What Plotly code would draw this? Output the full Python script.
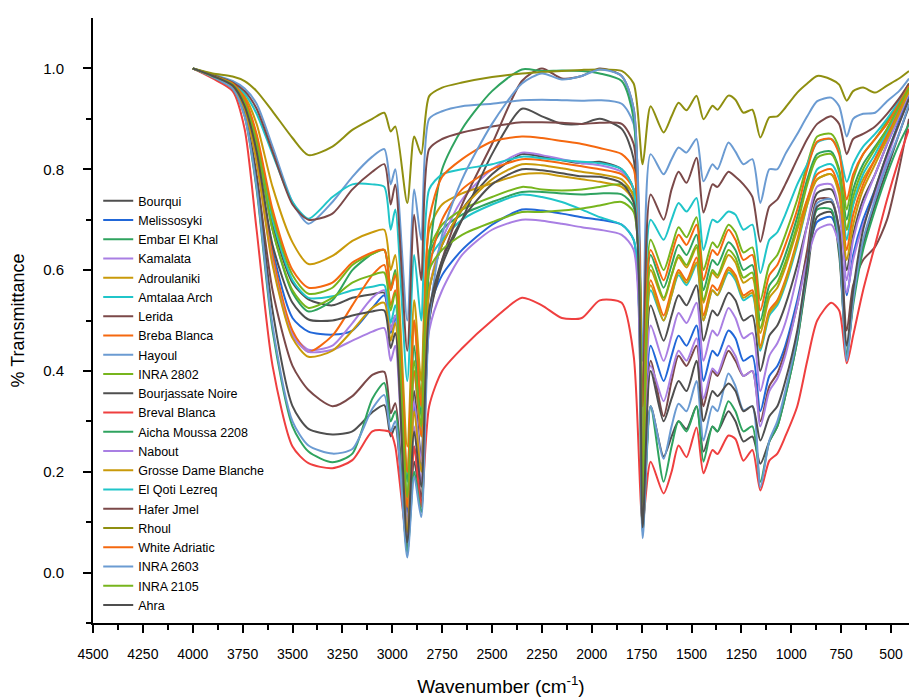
import plotly.graph_objects as go

wavenumber = [4000, 3900, 3800, 3740, 3680, 3600, 3500, 3420, 3300, 3200,
              3100, 3040, 3008, 2985, 2925, 2890, 2855, 2815, 2750, 2650,
              2500, 2350, 2250, 2150, 2050, 1960, 1850, 1790, 1745, 1705,
              1640, 1600, 1565, 1525, 1475, 1440, 1395, 1370, 1315, 1280,
              1240, 1195, 1155, 1110, 1070, 1030, 970, 920, 870, 800,
              760, 722, 690, 640, 580, 520, 460, 410]

bourqui = [1.000, 0.986, 0.968, 0.930, 0.850, 0.690, 0.575, 0.542, 0.530, 0.545,
           0.552, 0.555, 0.480, 0.510, 0.120, 0.360, 0.230, 0.560, 0.650, 0.720,
           0.790, 0.830, 0.825, 0.818, 0.812, 0.815, 0.800, 0.760, 0.120, 0.530,
           0.460, 0.510, 0.550, 0.530, 0.570, 0.460, 0.520, 0.510, 0.555, 0.540,
           0.500, 0.510, 0.400, 0.470, 0.490, 0.530, 0.610, 0.690, 0.753, 0.760,
           0.720, 0.600, 0.670, 0.740, 0.790, 0.850, 0.905, 0.950]
melissosyki = [1.000, 0.985, 0.966, 0.925, 0.830, 0.640, 0.505, 0.478, 0.472, 0.480,
               0.525, 0.550, 0.475, 0.505, 0.100, 0.330, 0.210, 0.520, 0.590, 0.640,
               0.690, 0.720, 0.718, 0.712, 0.705, 0.700, 0.690, 0.660, 0.110, 0.450,
               0.380, 0.430, 0.470, 0.450, 0.490, 0.380, 0.440, 0.430, 0.480, 0.465,
               0.420, 0.430, 0.320, 0.390, 0.410, 0.450, 0.540, 0.630, 0.696, 0.705,
               0.660, 0.550, 0.630, 0.700, 0.760, 0.830, 0.895, 0.945]
embar_el_khal = [1.000, 0.986, 0.970, 0.935, 0.855, 0.680, 0.555, 0.518, 0.540, 0.600,
                 0.632, 0.640, 0.565, 0.600, 0.180, 0.450, 0.310, 0.630, 0.680, 0.710,
                 0.735, 0.755, 0.755, 0.752, 0.750, 0.752, 0.750, 0.725, 0.150, 0.630,
                 0.565, 0.610, 0.650, 0.630, 0.670, 0.560, 0.620, 0.610, 0.655, 0.640,
                 0.600, 0.610, 0.500, 0.570, 0.590, 0.630, 0.705, 0.780, 0.830, 0.835,
                 0.800, 0.700, 0.760, 0.810, 0.845, 0.880, 0.925, 0.960]
kamalata = [1.000, 0.984, 0.965, 0.922, 0.820, 0.620, 0.475, 0.442, 0.450, 0.495,
            0.545, 0.560, 0.480, 0.510, 0.090, 0.340, 0.220, 0.560, 0.660, 0.740,
            0.800, 0.833, 0.828, 0.820, 0.812, 0.808, 0.795, 0.760, 0.110, 0.490,
            0.420, 0.470, 0.515, 0.495, 0.535, 0.420, 0.480, 0.470, 0.525, 0.505,
            0.465, 0.475, 0.360, 0.430, 0.455, 0.495, 0.590, 0.690, 0.766, 0.770,
            0.720, 0.580, 0.660, 0.730, 0.790, 0.850, 0.905, 0.950]
adroulaniki = [1.000, 0.987, 0.972, 0.945, 0.890, 0.765, 0.655, 0.612, 0.628, 0.658,
               0.675, 0.680, 0.600, 0.630, 0.250, 0.540, 0.380, 0.680, 0.730, 0.752,
               0.772, 0.790, 0.792, 0.786, 0.780, 0.775, 0.765, 0.735, 0.170, 0.600,
               0.540, 0.590, 0.625, 0.605, 0.645, 0.535, 0.595, 0.585, 0.630, 0.615,
               0.575, 0.585, 0.475, 0.545, 0.565, 0.605, 0.680, 0.740, 0.780, 0.790,
               0.760, 0.680, 0.730, 0.780, 0.820, 0.870, 0.915, 0.955]
amtalaa_arch = [1.000, 0.986, 0.970, 0.935, 0.860, 0.700, 0.580, 0.545, 0.548, 0.560,
                0.567, 0.570, 0.495, 0.530, 0.150, 0.400, 0.270, 0.620, 0.660, 0.700,
                0.730, 0.750, 0.745, 0.735, 0.720, 0.705, 0.690, 0.660, 0.140, 0.560,
                0.500, 0.550, 0.590, 0.570, 0.610, 0.500, 0.560, 0.550, 0.595, 0.580,
                0.540, 0.550, 0.440, 0.510, 0.530, 0.570, 0.650, 0.730, 0.800, 0.810,
                0.780, 0.660, 0.730, 0.790, 0.830, 0.875, 0.920, 0.960]
lerida = [1.000, 0.983, 0.962, 0.915, 0.790, 0.560, 0.410, 0.362, 0.330, 0.350,
          0.392, 0.398, 0.316, 0.336, 0.050, 0.250, 0.150, 0.500, 0.620, 0.730,
          0.850, 0.975, 1.000, 0.980, 0.985, 1.000, 0.985, 0.920, 0.090, 0.420,
          0.310, 0.380, 0.430, 0.410, 0.450, 0.330, 0.400, 0.390, 0.440, 0.420,
          0.390, 0.400, 0.300, 0.370, 0.395, 0.440, 0.530, 0.640, 0.740, 0.740,
          0.680, 0.480, 0.570, 0.620, 0.646, 0.700, 0.800, 0.900]
breba_blanca = [1.000, 0.984, 0.966, 0.925, 0.830, 0.630, 0.480, 0.438, 0.470, 0.530,
                0.590, 0.610, 0.530, 0.560, 0.130, 0.400, 0.270, 0.600, 0.700, 0.760,
                0.800, 0.820, 0.818, 0.812, 0.806, 0.800, 0.790, 0.760, 0.130, 0.580,
                0.510, 0.560, 0.600, 0.580, 0.625, 0.510, 0.570, 0.560, 0.605, 0.590,
                0.550, 0.560, 0.450, 0.520, 0.540, 0.580, 0.660, 0.740, 0.790, 0.800,
                0.760, 0.640, 0.710, 0.770, 0.820, 0.865, 0.915, 0.958]
hayoul = [1.000, 0.988, 0.975, 0.960, 0.930, 0.845, 0.735, 0.692, 0.735, 0.785,
          0.825, 0.840, 0.770, 0.800, 0.500, 0.760, 0.660, 0.900, 0.915, 0.925,
          0.930, 0.937, 0.938, 0.937, 0.936, 0.937, 0.930, 0.890, 0.420, 0.830,
          0.790, 0.820, 0.843, 0.833, 0.860, 0.776, 0.810, 0.800, 0.853, 0.835,
          0.810, 0.820, 0.733, 0.800, 0.800, 0.830, 0.870, 0.905, 0.935, 0.942,
          0.925, 0.865, 0.900, 0.910, 0.912, 0.935, 0.955, 0.980]
inra_2802 = [1.000, 0.985, 0.970, 0.938, 0.865, 0.710, 0.590, 0.553, 0.565, 0.610,
             0.632, 0.640, 0.560, 0.595, 0.200, 0.500, 0.350, 0.640, 0.690, 0.720,
             0.745, 0.765, 0.760, 0.758, 0.760, 0.765, 0.770, 0.750, 0.160, 0.660,
             0.600, 0.645, 0.685, 0.665, 0.705, 0.600, 0.655, 0.645, 0.690, 0.675,
             0.635, 0.645, 0.540, 0.610, 0.630, 0.670, 0.740, 0.810, 0.865, 0.870,
             0.840, 0.720, 0.780, 0.830, 0.860, 0.895, 0.935, 0.970]
bourjassate_noire = [1.000, 0.983, 0.962, 0.910, 0.780, 0.520, 0.330, 0.285, 0.274, 0.280,
                     0.318, 0.332, 0.270, 0.290, 0.045, 0.220, 0.140, 0.500, 0.610, 0.700,
                     0.830, 0.920, 0.905, 0.890, 0.890, 0.900, 0.880, 0.820, 0.085, 0.330,
                     0.230, 0.270, 0.300, 0.285, 0.330, 0.240, 0.290, 0.280, 0.320, 0.300,
                     0.260, 0.270, 0.216, 0.260, 0.290, 0.350, 0.460, 0.590, 0.706, 0.715,
                     0.630, 0.430, 0.540, 0.650, 0.730, 0.800, 0.870, 0.925]
breval_blanca = [1.000, 0.980, 0.955, 0.880, 0.680, 0.410, 0.250, 0.217, 0.207, 0.223,
                 0.280, 0.282, 0.278, 0.250, 0.064, 0.250, 0.130, 0.330, 0.400, 0.445,
                 0.500, 0.545, 0.530, 0.505, 0.505, 0.540, 0.535, 0.430, 0.100, 0.220,
                 0.157, 0.200, 0.252, 0.229, 0.288, 0.197, 0.243, 0.235, 0.272, 0.265,
                 0.222, 0.243, 0.163, 0.222, 0.236, 0.270, 0.330, 0.420, 0.500, 0.535,
                 0.520, 0.415, 0.470, 0.560, 0.650, 0.740, 0.820, 0.880]
aicha_moussa_2208 = [1.000, 0.983, 0.960, 0.905, 0.760, 0.480, 0.290, 0.240, 0.219, 0.236,
                     0.345, 0.376, 0.300, 0.320, 0.040, 0.200, 0.120, 0.620, 0.800, 0.880,
                     0.955, 0.998, 0.995, 0.996, 0.995, 0.990, 0.975, 0.900, 0.080, 0.330,
                     0.180, 0.250, 0.300, 0.280, 0.330, 0.220, 0.290, 0.280, 0.340, 0.320,
                     0.280, 0.290, 0.180, 0.260, 0.290, 0.350, 0.460, 0.600, 0.720, 0.720,
                     0.640, 0.430, 0.530, 0.640, 0.720, 0.790, 0.850, 0.890]
nabout = [1.000, 0.984, 0.965, 0.920, 0.815, 0.615, 0.470, 0.438, 0.442, 0.460,
          0.478, 0.485, 0.420, 0.450, 0.070, 0.290, 0.180, 0.480, 0.560, 0.630,
          0.680, 0.700, 0.698, 0.692, 0.685, 0.680, 0.670, 0.640, 0.100, 0.410,
          0.340, 0.395, 0.440, 0.420, 0.465, 0.345, 0.405, 0.395, 0.450, 0.430,
          0.390, 0.400, 0.290, 0.360, 0.385, 0.430, 0.530, 0.620, 0.680, 0.690,
          0.650, 0.555, 0.620, 0.690, 0.750, 0.820, 0.890, 0.940]
grosse_dame_blanche = [1.000, 0.984, 0.964, 0.920, 0.815, 0.610, 0.465, 0.428, 0.440, 0.480,
                       0.525, 0.535, 0.460, 0.495, 0.080, 0.320, 0.200, 0.560, 0.650, 0.720,
                       0.780, 0.810, 0.808, 0.802, 0.795, 0.790, 0.780, 0.745, 0.120, 0.570,
                       0.500, 0.550, 0.595, 0.575, 0.615, 0.500, 0.560, 0.550, 0.600, 0.585,
                       0.545, 0.555, 0.445, 0.515, 0.535, 0.575, 0.655, 0.730, 0.780, 0.790,
                       0.750, 0.620, 0.690, 0.760, 0.810, 0.860, 0.910, 0.955]
el_qoti_lezreq = [1.000, 0.987, 0.972, 0.950, 0.910, 0.830, 0.735, 0.702, 0.745, 0.770,
                  0.770, 0.765, 0.680, 0.720, 0.380, 0.630, 0.500, 0.760, 0.790, 0.800,
                  0.810, 0.825, 0.822, 0.818, 0.815, 0.812, 0.800, 0.760, 0.250, 0.700,
                  0.660, 0.700, 0.733, 0.716, 0.743, 0.640, 0.700, 0.695, 0.716, 0.710,
                  0.680, 0.690, 0.594, 0.660, 0.675, 0.710, 0.770, 0.810, 0.853, 0.860,
                  0.835, 0.775, 0.810, 0.845, 0.870, 0.900, 0.935, 0.965]
hafer_jmel = [1.000, 0.987, 0.972, 0.955, 0.920, 0.835, 0.730, 0.700, 0.712, 0.760,
              0.795, 0.810, 0.730, 0.770, 0.440, 0.710, 0.580, 0.840, 0.860, 0.873,
              0.885, 0.893, 0.893, 0.892, 0.890, 0.892, 0.890, 0.850, 0.330, 0.750,
              0.700, 0.760, 0.795, 0.773, 0.823, 0.714, 0.770, 0.765, 0.795, 0.785,
              0.770, 0.745, 0.656, 0.726, 0.740, 0.770, 0.820, 0.860, 0.890, 0.905,
              0.890, 0.830, 0.860, 0.870, 0.885, 0.910, 0.940, 0.970]
rhoul = [1.000, 0.990, 0.984, 0.975, 0.955, 0.915, 0.862, 0.828, 0.845, 0.878,
         0.900, 0.912, 0.875, 0.885, 0.733, 0.865, 0.830, 0.945, 0.962, 0.972,
         0.983, 0.990, 0.993, 0.995, 0.997, 0.998, 0.995, 0.970, 0.810, 0.925,
         0.873, 0.905, 0.932, 0.917, 0.946, 0.899, 0.926, 0.918, 0.946, 0.938,
         0.912, 0.918, 0.863, 0.903, 0.905, 0.922, 0.952, 0.970, 0.985, 0.978,
         0.968, 0.936, 0.955, 0.962, 0.952, 0.966, 0.980, 0.995]
white_adriatic = [1.000, 0.985, 0.970, 0.940, 0.870, 0.720, 0.600, 0.565, 0.575, 0.615,
                  0.635, 0.640, 0.560, 0.590, 0.200, 0.500, 0.330, 0.700, 0.785, 0.820,
                  0.855, 0.865, 0.862, 0.856, 0.850, 0.842, 0.830, 0.800, 0.160, 0.640,
                  0.580, 0.630, 0.670, 0.650, 0.690, 0.580, 0.640, 0.630, 0.680, 0.660,
                  0.620, 0.630, 0.520, 0.590, 0.610, 0.650, 0.720, 0.800, 0.855, 0.860,
                  0.830, 0.740, 0.790, 0.830, 0.860, 0.890, 0.930, 0.965]
inra_2603 = [1.000, 0.983, 0.960, 0.905, 0.765, 0.490, 0.300, 0.252, 0.236, 0.245,
             0.325, 0.352, 0.280, 0.300, 0.030, 0.190, 0.110, 0.500, 0.670, 0.780,
             0.890, 0.970, 0.990, 0.978, 0.985, 0.998, 0.985, 0.920, 0.068, 0.330,
             0.226, 0.290, 0.335, 0.320, 0.380, 0.262, 0.330, 0.320, 0.395, 0.370,
             0.322, 0.330, 0.169, 0.262, 0.300, 0.360, 0.470, 0.610, 0.733, 0.740,
             0.650, 0.420, 0.540, 0.660, 0.740, 0.810, 0.870, 0.930]
inra_2105 = [1.000, 0.985, 0.968, 0.932, 0.850, 0.680, 0.560, 0.525, 0.545, 0.575,
             0.590, 0.595, 0.520, 0.555, 0.150, 0.420, 0.290, 0.600, 0.640, 0.670,
             0.695, 0.715, 0.715, 0.718, 0.722, 0.728, 0.735, 0.715, 0.140, 0.610,
             0.545, 0.590, 0.630, 0.610, 0.650, 0.540, 0.600, 0.590, 0.640, 0.625,
             0.585, 0.595, 0.485, 0.555, 0.575, 0.615, 0.690, 0.770, 0.823, 0.830,
             0.795, 0.680, 0.745, 0.800, 0.840, 0.880, 0.925, 0.962]
ahra = [1.000, 0.985, 0.966, 0.925, 0.835, 0.650, 0.535, 0.502, 0.500, 0.510,
        0.518, 0.520, 0.445, 0.475, 0.060, 0.280, 0.170, 0.520, 0.620, 0.700,
        0.770, 0.800, 0.798, 0.792, 0.786, 0.785, 0.772, 0.735, 0.090, 0.400,
        0.300, 0.345, 0.380, 0.360, 0.420, 0.300, 0.360, 0.350, 0.375, 0.360,
        0.320, 0.330, 0.262, 0.310, 0.330, 0.380, 0.480, 0.610, 0.726, 0.735,
        0.680, 0.450, 0.560, 0.680, 0.760, 0.830, 0.890, 0.940]

series_names = ["Bourqui", "Melissosyki", "Embar El Khal", "Kamalata", "Adroulaniki",
                "Amtalaa Arch", "Lerida", "Breba Blanca", "Hayoul", "INRA 2802",
                "Bourjassate Noire", "Breval Blanca", "Aicha Moussa 2208", "Nabout",
                "Grosse Dame Blanche", "El Qoti Lezreq", "Hafer Jmel", "Rhoul",
                "White Adriatic", "INRA 2603", "INRA 2105", "Ahra"]
series_values = [bourqui, melissosyki, embar_el_khal, kamalata, adroulaniki,
                 amtalaa_arch, lerida, breba_blanca, hayoul, inra_2802,
                 bourjassate_noire, breval_blanca, aicha_moussa_2208, nabout,
                 grosse_dame_blanche, el_qoti_lezreq, hafer_jmel, rhoul,
                 white_adriatic, inra_2603, inra_2105, ahra]

x_ticks = [4500, 4250, 4000, 3750, 3500, 3250, 3000, 2750, 2500,
           2250, 2000, 1750, 1500, 1250, 1000, 750, 500]
x_minor = [4375, 4125, 3875, 3625, 3375, 3125, 2875, 2625,
           2375, 2125, 1875, 1625, 1375, 1125, 875, 625]
y_ticks = [0.0, 0.2, 0.4, 0.6, 0.8, 1.0]
y_ticklabels = ["0.0", "0.2", "0.4", "0.6", "0.8", "1.0"]
y_minor = [-0.1, 0.1, 0.3, 0.5, 0.7, 0.9]

GRAY, BLUE, GREEN, PURPLE = "#4f4f4f", "#2167d8", "#2fa35f", "#a97fe3"
GOLD, CYAN, BROWN, ORANGE = "#c99a0a", "#20c5c9", "#7b4949", "#f5680f"
LBLUE, YGREEN, RED, OLIVE = "#6b9bd2", "#77b51d", "#ef3f3f", "#8f8f10"
colors = [GRAY, BLUE, GREEN, PURPLE, GOLD, CYAN, BROWN, ORANGE, LBLUE, YGREEN,
          GRAY, RED, GREEN, PURPLE, GOLD, CYAN, BROWN, OLIVE, ORANGE, LBLUE,
          YGREEN, GRAY]

fig = go.Figure()
for name, vals, col in zip(series_names, series_values, colors):
    fig.add_trace(go.Scatter(x=wavenumber, y=vals, mode="lines", name=name,
                             line=dict(color=col, width=2, shape="spline", smoothing=0.7)))

fig.update_layout(
    width=909, height=697,
    margin=dict(l=93, r=0, t=18, b=74),
    plot_bgcolor="white", paper_bgcolor="white",
    font=dict(family="Liberation Sans, Arial, sans-serif", color="black"),
    showlegend=True,
    legend=dict(x=0.0064, y=0.7223, xanchor="left", yanchor="top",
                bgcolor="rgba(0,0,0,0)", font=dict(size=12.5, color="black"),
                tracegroupgap=0),
    xaxis=dict(range=[4500, 410], automargin=False, tickmode="array",
               tickvals=x_ticks,
               ticks="outside", ticklen=8, tickwidth=1.5, tickcolor="black",
               ticklabelstandoff=9,
               minor=dict(tickvals=x_minor,
                          ticks="outside", ticklen=5, tickwidth=1.5, tickcolor="black"),
               showline=True, linecolor="black", linewidth=2, showgrid=False,
               zeroline=False,
               tickfont=dict(family="Liberation Sans Narrow, Arial Narrow, Liberation Sans", size=14),
               title=dict(text="Wavenumber (cm<sup>-1</sup>)", font=dict(size=19), standoff=20)),
    yaxis=dict(range=[-0.1, 1.1], automargin=False, tickmode="array",
               tickvals=y_ticks, ticktext=y_ticklabels,
               ticks="outside", ticklen=8, tickwidth=1.5, tickcolor="black",
               ticklabelstandoff=16,
               minor=dict(tickvals=y_minor,
                          ticks="outside", ticklen=5, tickwidth=1.5, tickcolor="black"),
               showline=True, linecolor="black", linewidth=2, showgrid=False,
               zeroline=False, tickfont=dict(size=15),
               title=dict(text="% Transmittance", font=dict(size=18), standoff=14)),
)

fig.write_html("out.html", config={"displayModeBar": False},
               post_script="document.body.style.margin='0';document.body.style.overflow='hidden';")
